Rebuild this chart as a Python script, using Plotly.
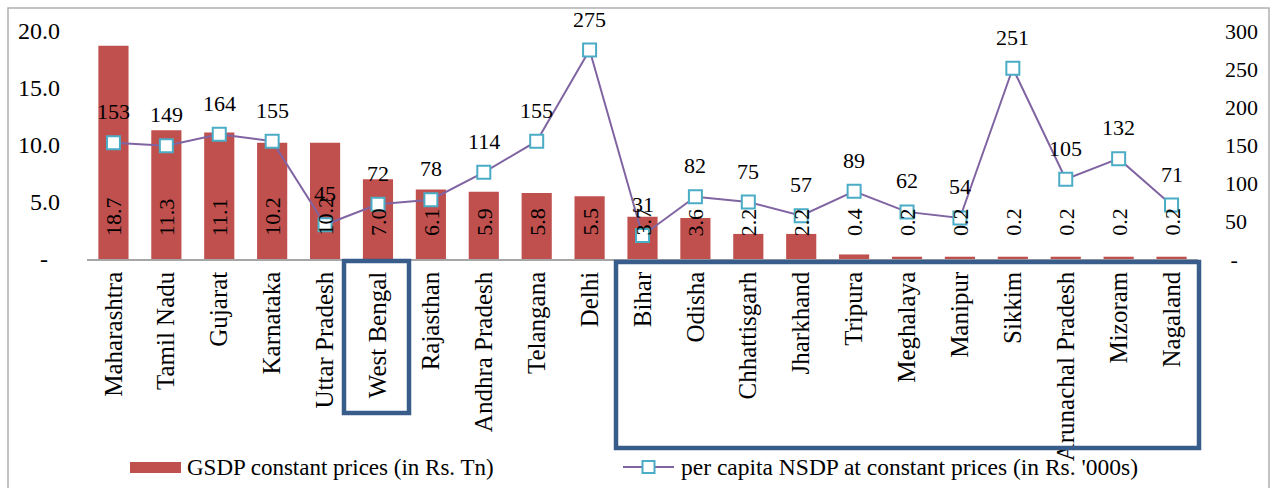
import plotly.graph_objects as go

# State-wise GSDP and per-capita NSDP at constant prices
states = ["Maharashtra", "Tamil Nadu", "Gujarat", "Karnataka", "Uttar Pradesh",
          "West Bengal", "Rajasthan", "Andhra Pradesh", "Telangana", "Delhi",
          "Bihar", "Odisha", "Chhattisgarh", "Jharkhand", "Tripura", "Meghalaya",
          "Manipur", "Sikkim", "Arunachal Pradesh", "Mizoram", "Nagaland"]
gsdp_tn = [18.7, 11.3, 11.1, 10.2, 10.2, 7.0, 6.1, 5.9, 5.8, 5.5,
           3.7, 3.6, 2.2, 2.2, 0.4, 0.2, 0.2, 0.2, 0.2, 0.2, 0.2]
nsdp_pc_k = [153, 149, 164, 155, 45, 72, 78, 114, 155, 275,
             31, 82, 75, 57, 89, 62, 54, 251, 105, 132, 71]

left_ticks = [0, 5, 10, 15, 20]
left_ticktext = ["-\u2007", "5.0", "10.0", "15.0", "20.0"]
right_ticks = [0, 50, 100, 150, 200, 250, 300]
right_ticktext = ["\u00a0-", "50", "100", "150", "200", "250", "300"]

legend_bar = "GSDP constant prices (in Rs. Tn)"
legend_line = "per capita NSDP at constant prices (in Rs. '000s)"

FONT = "Times New Roman, Liberation Serif, serif"
BAR_RED = "#C0504D"
LINE_PURPLE = "#8064A2"
MARKER_BLUE = "#4BACC6"
BOX_BLUE = "#385D8A"

W, H = 1278, 488
L, R, T, B = 87, 80, 31, 229
pw, ph = W - L - R, H - T - B


def px(x):
    return (x - L) / pw


def py(y):
    return (H - B - y) / ph


fig = go.Figure()

fig.add_trace(go.Bar(
    x=states, y=gsdp_tn, name=legend_bar,
    marker=dict(color=BAR_RED, line=dict(width=0)),
    yaxis="y", showlegend=False, hoverinfo="x+y",
))

fig.add_trace(go.Scatter(
    x=states, y=nsdp_pc_k, name=legend_line, mode="lines+markers",
    line=dict(color=LINE_PURPLE, width=2),
    marker=dict(symbol="square", size=13, color="white",
                line=dict(color=MARKER_BLUE, width=2)),
    yaxis="y2", showlegend=False,
))

annotations = []
# GSDP values written upright near the base of each bar
for s, v in zip(states, gsdp_tn):
    annotations.append(dict(
        x=s, y=0, xref="x", yref="y", text=f"{v:.1f}", showarrow=False,
        textangle=-90, yanchor="bottom", xanchor="center", yshift=21,
        font=dict(family=FONT, size=22, color="black"),
    ))
# NSDP values above each marker
for s, v in zip(states, nsdp_pc_k):
    annotations.append(dict(
        x=s, y=v, xref="x", yref="y2", text=str(v), showarrow=False,
        yanchor="middle", xanchor="center", yshift=31,
        font=dict(family=FONT, size=22, color="black"),
    ))

# Legend entries
annotations.append(dict(x=px(185), y=py(467), xref="paper", yref="paper",
                        text=legend_bar, showarrow=False, xanchor="left",
                        yanchor="middle", font=dict(family=FONT, size=23, color="black")))
annotations.append(dict(x=px(679), y=py(467), xref="paper", yref="paper",
                        text=legend_line, showarrow=False, xanchor="left",
                        yanchor="middle", font=dict(family=FONT, size=23.5, color="black")))

shapes = [
    # outer chart border
    dict(type="rect", xref="paper", yref="paper", x0=px(8), x1=px(1269),
         y0=py(8), y1=py(495), line=dict(color="#B0B0B0", width=1.5),
         fillcolor="rgba(0,0,0,0)", layer="below"),
    # highlight boxes around the category labels
    dict(type="rect", xref="paper", yref="paper", x0=px(344), x1=px(409),
         y0=py(261), y1=py(413), line=dict(color=BOX_BLUE, width=4.5)),
    dict(type="rect", xref="paper", yref="paper", x0=px(616), x1=px(1199),
         y0=py(262), y1=py(448), line=dict(color=BOX_BLUE, width=4.5)),
    # legend swatches
    dict(type="rect", xref="paper", yref="paper", x0=px(130), x1=px(181),
         y0=py(462), y1=py(473), line=dict(width=0), fillcolor=BAR_RED),
    dict(type="line", xref="paper", yref="paper", x0=px(623), x1=px(674),
         y0=py(467), y1=py(467), line=dict(color=LINE_PURPLE, width=2)),
    dict(type="rect", xref="paper", yref="paper", x0=px(642.5), x1=px(654.5),
         y0=py(461), y1=py(473), line=dict(color=MARKER_BLUE, width=2),
         fillcolor="white"),
]

fig.update_layout(
    width=W, height=H,
    margin=dict(l=L, r=R, t=T, b=B, pad=0),
    paper_bgcolor="white", plot_bgcolor="white",
    font=dict(family=FONT, size=22, color="black"),
    bargap=0.43,
    showlegend=False,
    xaxis=dict(
        tickangle=-90, tickfont=dict(family=FONT, size=25, color="black"),
        showline=True, linecolor="#A6A6A6", linewidth=1.5,
        showgrid=False, ticks="", ticklabelstandoff=1,
        range=[-0.5, len(states) - 0.5],
    ),
    yaxis=dict(
        range=[0, 20], tickvals=left_ticks, ticktext=left_ticktext,
        tickfont=dict(family=FONT, size=24, color="black"),
        showgrid=False, zeroline=False, showline=False, ticks="",
        ticklabelstandoff=26,
    ),
    yaxis2=dict(
        range=[0, 300], tickvals=right_ticks, ticktext=right_ticktext,
        tickfont=dict(family=FONT, size=22, color="black"),
        overlaying="y", side="right",
        showgrid=False, zeroline=False, showline=False, ticks="",
        ticklabelstandoff=26,
    ),
    annotations=annotations,
    shapes=shapes,
)

fig.write_html("out.html")
